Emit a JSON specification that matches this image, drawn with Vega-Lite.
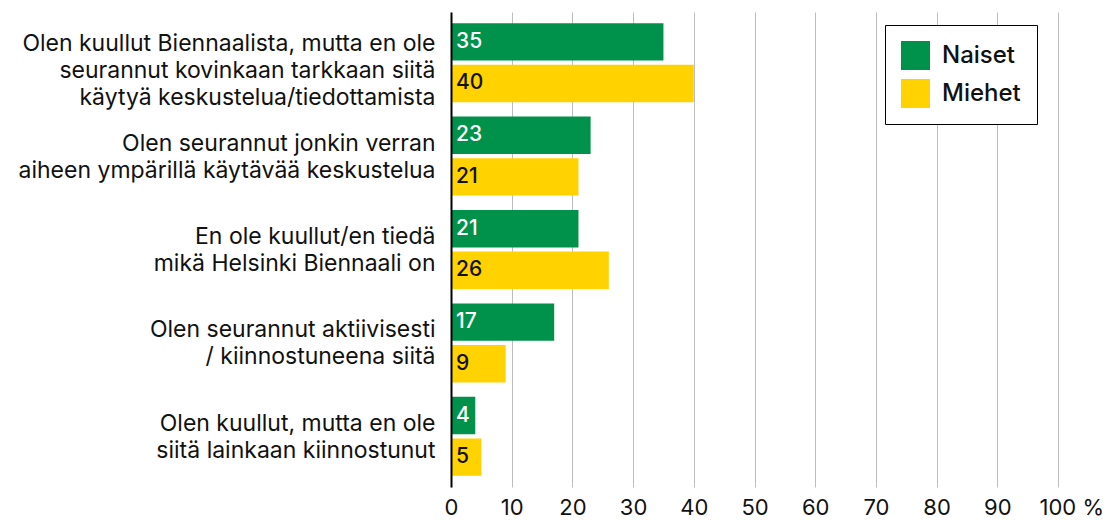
{
  "$schema": "https://vega.github.io/schema/vega-lite/v6.json",
  "width": 607,
  "height": 475,
  "autosize": {"type": "none"},
  "padding": {"left": 451, "top": 12, "right": 45, "bottom": 33},
  "background": "white",
  "config": {"view": {"stroke": null}, "font": "Inter"},
  "data": {
    "values": [
      {"q": "Olen kuullut Biennaalista, mutta en ole|seurannut kovinkaan tarkkaan siitä|käytyä keskustelua/tiedottamista", "g": "Naiset", "v": 35},
      {"q": "Olen kuullut Biennaalista, mutta en ole|seurannut kovinkaan tarkkaan siitä|käytyä keskustelua/tiedottamista", "g": "Miehet", "v": 40},
      {"q": "Olen seurannut jonkin verran|aiheen ympärillä käytävää keskustelua", "g": "Naiset", "v": 23},
      {"q": "Olen seurannut jonkin verran|aiheen ympärillä käytävää keskustelua", "g": "Miehet", "v": 21},
      {"q": "En ole kuullut/en tiedä|mikä Helsinki Biennaali on", "g": "Naiset", "v": 21},
      {"q": "En ole kuullut/en tiedä|mikä Helsinki Biennaali on", "g": "Miehet", "v": 26},
      {"q": "Olen seurannut aktiivisesti|/ kiinnostuneena siitä", "g": "Naiset", "v": 17},
      {"q": "Olen seurannut aktiivisesti|/ kiinnostuneena siitä", "g": "Miehet", "v": 9},
      {"q": "Olen kuullut, mutta en ole|siitä lainkaan kiinnostunut", "g": "Naiset", "v": 4},
      {"q": "Olen kuullut, mutta en ole|siitä lainkaan kiinnostunut", "g": "Miehet", "v": 5}
    ]
  },
  "encoding": {
    "y": {
      "field": "q",
      "type": "nominal",
      "sort": null,
      "scale": {"paddingInner": 0.155, "paddingOuter": 0.12},
      "axis": {
        "title": null,
        "labelExpr": "split(datum.label, '|')",
        "labelFontSize": 23,
        "labelLineHeight": 27,
        "labelPadding": 16,
        "labelLimit": 600,
        "labelColor": "#111",
        "labelOffset": {"condition": {"test": "indexof(datum.value, 'Biennaalista,') >= 0", "value": -19}, "value": -12.5},
        "ticks": false,
        "domainColor": "#000",
        "domainWidth": 2,
        "zindex": 2
      }
    },
    "yOffset": {"field": "g", "type": "nominal", "sort": ["Naiset", "Miehet"], "scale": {"paddingInner": 0.1}},
    "x": {
      "field": "v",
      "type": "quantitative",
      "scale": {"domain": [0, 100]},
      "axis": {
        "title": null,
        "values": [0, 10, 20, 30, 40, 50, 60, 70, 80, 90, 100],
        "grid": true,
        "gridColor": "#bdbdbd",
        "gridWidth": 1,
        "domain": false,
        "ticks": false,
        "labelFontSize": 22,
        "labelColor": "#111",
        "labelPadding": 10,
        "labelExpr": "datum.value == 100 ? '100 %' : datum.label",
        "labelAlign": {"condition": {"test": "datum.value == 100", "value": "left"}, "value": "center"},
        "labelOffset": {"condition": {"test": "datum.value == 100", "value": -19}, "value": 0}
      }
    }
  },
  "layer": [
    {
      "mark": {"type": "bar"},
      "encoding": {
        "color": {
          "field": "g",
          "type": "nominal",
          "scale": {"domain": ["Naiset", "Miehet"], "range": ["#00924A", "#FFD200"]},
          "legend": {
            "title": null,
            "orient": "none",
            "legendX": 434,
            "legendY": 13,
            "strokeColor": "#000",
            "fillColor": "white",
            "padding": 16,
            "symbolType": "square",
            "symbolSize": 841,
            "symbolStrokeWidth": 0,
            "labelFontSize": 24,
            "labelFontWeight": 500,
            "labelColor": "#111",
            "labelOffset": 12,
            "rowPadding": 9
          }
        }
      }
    },
    {
      "mark": {"type": "text", "align": "left", "baseline": "middle", "dx": 5, "fontSize": 21, "fontWeight": 500},
      "encoding": {
        "x": {"datum": 0},
        "text": {"field": "v", "type": "quantitative"},
        "color": {"condition": {"test": "datum.g == 'Naiset'", "value": "white"}, "value": "#111"}
      }
    }
  ]
}
